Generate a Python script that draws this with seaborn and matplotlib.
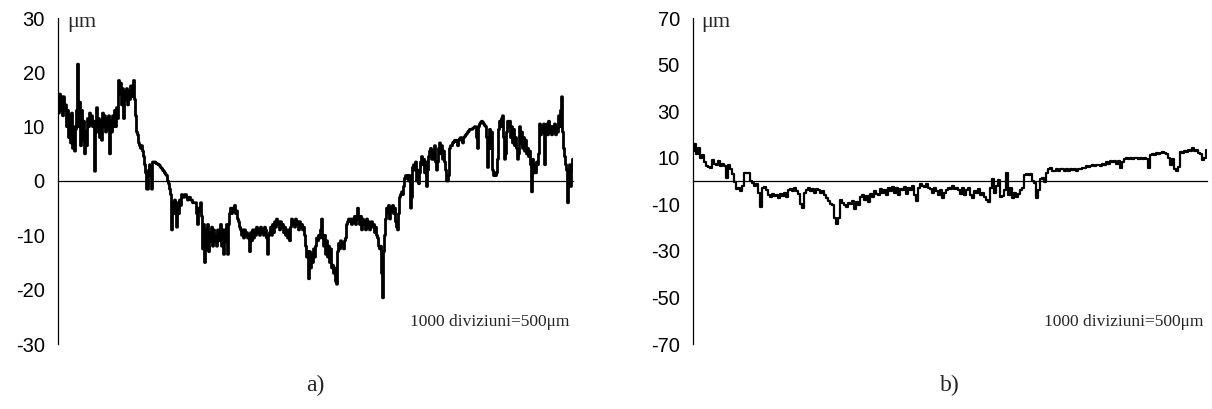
import numpy as np
import pandas as pd
import matplotlib
matplotlib.use("Agg")
import matplotlib.pyplot as plt
import seaborn as sns

# ---------------- data ----------------
# profile a) in micrometres, sampled uniformly over 1000 divisions
profile_a = [
    15, 12.5, 16, 13, 15.5, 12, 15.5, 13, 14,
    10, 13, 8, 12, 7, 12.5, 6, 10, 5.5, 9.5,
    13, 21.5, 10, 14.5, 6.5, 13, 7.5, 11, 5, 9,
    6.5, 11.5, 10, 12.5, 10.5, 12, 10, 11, 1.8, 10.5,
    13.5, 9, 11.5, 8, 11, 7.5, 12.5, 10, 12, 9,
    11.5, 9.5, 12, 5, 11, 9, 12, 10, 13, 10,
    13.5, 11.5, 18.5, 16, 18, 14, 17, 11.5, 16.5, 15,
    17, 14, 16.5, 15, 17.5, 15.5, 17.5, 18.5, 15, 12,
    9, 8.5, 7, 6.5, 6, 6.5, 5.5, 4.5, 3, 1.5,
    -1.5, -1.5, 2, 3, 1, -1.5, 3.5, 3.5, 3.5, 3.3,
    3.2, 3.1, 3, 2.8, 2.5, 2.3, 2, 1.8, 1.5, 1.2,
    1, 0, -0.5, -1.5, -2.5, -9, -4, -6, -3.5, -5,
    -8.5, -4, -6, -3.5, -4.5, -2.5, -3, -3, -2.5, -2.5,
    -3, -3.5, -3, -3, -3.5, -3.5, -4, -4, -4, -4,
    -6, -8, -5, -5.5, -4, -6.5, -12.5, -8, -15, -9,
    -12.5, -8, -13, -9.5, -11, -8.5, -12, -9, -11, -10,
    -12, -9, -11, -10, -8, -12, -9, -13.5, -9, -11,
    -8, -13.5, -8, -6, -5, -6, -5, -5.5, -4.5, -6,
    -5.5, -7, -7.5, -8.5, -9, -10, -9, -10.5, -9, -10,
    -9.5, -10.5, -10, -13, -9.5, -11, -9, -10.5, -9, -10,
    -8.5, -9.5, -9, -10, -8.5, -9.5, -9, -10, -8.5, -9,
    -10.5, -13.5, -10, -9.5, -8.5, -10, -8, -9.5, -7.5, -8.5,
    -7, -8, -7.5, -9, -7.5, -8.5, -8, -9.5, -8.5, -10,
    -9, -10.5, -9, -11, -8.5, -7, -8, -7.5, -8.5, -7,
    -8, -7.5, -9, -7.5, -8.5, -8, -9, -8.5, -10, -12,
    -14, -13, -18, -13, -16, -13.5, -15, -12.5, -14, -12,
    -10.5, -11, -10, -10.5, -9, -7, -10.5, -12, -10, -13.5,
    -11, -14, -12, -15, -12.5, -16, -15.5, -17, -16, -18.5,
    -19, -13, -11.5, -12.5, -11, -12, -11.5, -12.5, -11, -10.5,
    -8, -7.5, -7, -7.5, -7, -8, -7, -7.5, -6.5, -8,
    -7, -5, -6.5, -8, -6.5, -9, -7, -8, -7.5, -9,
    -7, -8.5, -7.5, -9, -8, -7.5, -8.5, -8, -9.5, -8.5,
    -10, -10.5, -12, -12.5, -12, -17, -21.5, -13, -10, -7,
    -5, -6, -4.5, -7, -5, -5.5, -4.5, -6, -5, -7.5,
    -8.5, -9, -6, -3, -2.5, -2, -2.5, -1, 0.5, 1,
    0.5, 1, 0, 1, -5, -3, 2.5, 3, 2, 3.5,
    0, 2, -0.5, 1.5, 3.5, 4.5, 3, 4, 1.5, 3.5,
    -1, 2, 4.5, 5.5, 6, 4, 5.5, 4, 6.5, 3.5,
    2, 3.5, 6, 7, 5, 6.5, 4, 5.5, 3.5, 2,
    0, 0, 1, 6, 6.5, 6.5, 7, 7.2, 7.5, 7.3,
    7.5, 6.5, 7.5, 7.8, 8, 7.5, 7, 8, 8.2, 8.5,
    8.7, 9, 9.2, 9.5, 9.5, 9.5, 9.7, 9.8, 10, 10,
    8, 6, 10, 10.5, 10.8, 11, 10.8, 10.5, 10.2, 10,
    8, 2.5, 6, 9.5, 6, 9, 2, 1, 1.5, 1,
    1.5, 4, 9.5, 11, 10, 11.5, 12, 8, 4, 5,
    9, 11, 10, 11, 8, 10, 7, 9.5, 6.5, 8,
    6, 4, 5, 10, 7, 9, 6, 8, 5.5, 7.5,
    5, 6, 4.5, 5.5, 3, -2, 4, 1.5, 3, 1.5,
    3.5, 3, 5, 10.5, 8.5, 10, 9, 10.5, 3, 9,
    10.5, 8.5, 11, 9, 10, 8.5, 10, 9, 10.5, 8.5,
    10, 9, 12, 10, 13, 15.5, 9, 6, 4.5, 3,
    2, -4, 1, 3, -1, 2, 4,
]

# profile b) in micrometres, sampled uniformly over the axis length
profile_b = [
    13, 16, 11.5, 14, 10, 11, 8, 6.5, 6, 5.5,
    9, 7.5, 7, 8.5, 6.5, 7.5, 6.5, 1.5, 7, 5,
    3, -0.5, -3.5, -3, -4.5, -2, 3.5, 3.5, 3.5, 0,
    -1, -2, -1.5, -5, -11, -3, -2.5, -4, -6, -7,
    -5.5, -6.5, -6, -7.5, -5.5, -6.5, -5, -7, -4, -3.5,
    -4.5, -3, -4.5, -5.5, -10, -11.5, -5, -4, -3, -4.5,
    -3.5, -5, -3.5, -4, -5, -4.5, -6, -7.5, -8.5, -10,
    -10.5, -16, -18.5, -16, -8, -9.5, -10.5, -11, -9.5, -10,
    -8.5, -12, -9, -10.5, -7, -6, -8, -6.5, -9, -5.5,
    -7, -4.5, -5.5, -6, -3.5, -5, -4, -6, -3, -4.5,
    -2.5, -5, -3, -6, -3.5, -4, -2.5, -5.5, -3, -4,
    -2, -6, -8.5, -3, -1.5, -2, -2.5, -1.5, -3, -3.5,
    -5, -3, -4.5, -6, -4, -7.5, -5, -4, -3, -3.5,
    -2, -3.5, -3, -4, -5.5, -3, -6, -4, -3, -6,
    -7.5, -4.5, -5, -3.5, -6, -5, -7, -8, -9, -3,
    1, -5, -2, 0.5, -7, -6.5, -4, 3.5, -6, -3,
    -7.5, -5, -7, -5.5, -4, -3, 2.5, 3, 2.5, 3,
    0, -1, -7.5, -4, 1, 1.5, -0.5, 3.5, 5, 5.5,
    4.5, 4.5, 5, 4.5, 5, 5, 4.5, 5, 4.5, 5,
    4.8, 5, 4.5, 5, 5, 5.5, 5.5, 6.5, 6, 6.5,
    7, 6.5, 7, 7, 6.5, 7.5, 7, 8, 7.5, 8.5,
    8, 8.5, 7.5, 8.5, 5.5, 8, 9.5, 10, 9.5, 10,
    9.5, 10, 10, 9.5, 10, 9.5, 10, 9.5, 5.5, 11,
    11.5, 11, 12, 11.5, 12, 12.5, 12, 11.5, 10, 7,
    9.5, 5, 4.5, 6, 12.5, 12, 13, 12.5, 13.5, 13,
    14, 13, 13.5, 12, 11.5, 9, 10, 13.5,
]

span_a = 1000          # divisions along profile a
span_b = 1005          # divisions along profile b
xtick_step_a = 25
xtick_step_b = 35
yticks_a = [-30, -20, -10, 0, 10, 20, 30]
yticks_b = [-70, -50, -30, -10, 10, 30, 50, 70]
unit_label = "\u03bcm"
scale_note = "1000 diviziuni=500\u03bcm"
panel_labels = ["a)", "b)"]

df_a = pd.DataFrame({"div": np.linspace(0, span_a, len(profile_a)), "um": profile_a})
df_b = pd.DataFrame({"div": np.linspace(0, span_b, len(profile_b)), "um": profile_b})

# ---------------- figure ----------------
sns.set_style("white")
plt.rcParams["font.family"] = ["Liberation Sans", "DejaVu Sans"]

W, H = 1212, 409
fig = plt.figure(figsize=(W / 100, H / 100), dpi=100)

def px_rect(x0, x1, ytop, ybot):
    return [x0 / W, 1 - ybot / H, (x1 - x0) / W, (ybot - ytop) / H]

ax_a = fig.add_axes(px_rect(58, 573, 18, 344))
ax_b = fig.add_axes(px_rect(693, 1207, 18, 344))

serif = ["Liberation Serif", "DejaVu Serif"]

panels = [
    (ax_a, df_a, span_a, xtick_step_a, yticks_a, 2.0),
    (ax_b, df_b, span_b, xtick_step_b, yticks_b, 1.6),
]
for ax, df, span, step, yt, lw in panels:
    sns.lineplot(data=df, x="div", y="um", ax=ax, color="black", lw=lw,
                 estimator=None, sort=False, drawstyle="steps-mid")
    ax.set_xlim(0, span)
    ax.set_ylim(yt[0], yt[-1])
    ax.set_yticks(yt)
    ax.set_yticklabels([str(v) for v in yt], fontsize=14.5)
    ax.set_xticks(np.arange(0, span + 1, step))
    ax.set_xticklabels([])
    ax.set_xlabel("")
    ax.set_ylabel("")
    for s in ["top", "right"]:
        ax.spines[s].set_visible(False)
    ax.spines["left"].set_color("black")
    ax.spines["left"].set_linewidth(0.9)
    ax.spines["bottom"].set_position(("data", 0))
    ax.spines["bottom"].set_color("black")
    ax.spines["bottom"].set_linewidth(0.9)
    ax.spines["bottom"].set_zorder(1)
    ax.tick_params(axis="y", direction="out", length=4.5, width=0.9, pad=5, colors="black")
    ax.tick_params(axis="x", direction="out", length=3.5, width=0.8, colors="black")
    ax.patch.set_alpha(0)
    ax.text(0.017, 0.972, unit_label, transform=ax.transAxes, fontsize=16,
            family=serif, ha="left", va="baseline")
    ax.text(0.992, 0.055, scale_note, transform=ax.transAxes, fontsize=12.5,
            family=serif, ha="right", va="baseline")

fig.text(315 / W, 1 - 385 / H, panel_labels[0], fontsize=17, family=serif,
         ha="center", va="center")
fig.text(950 / W, 1 - 385 / H, panel_labels[1], fontsize=17, family=serif,
         ha="center", va="center")

fig.savefig("out.png", dpi=100)
